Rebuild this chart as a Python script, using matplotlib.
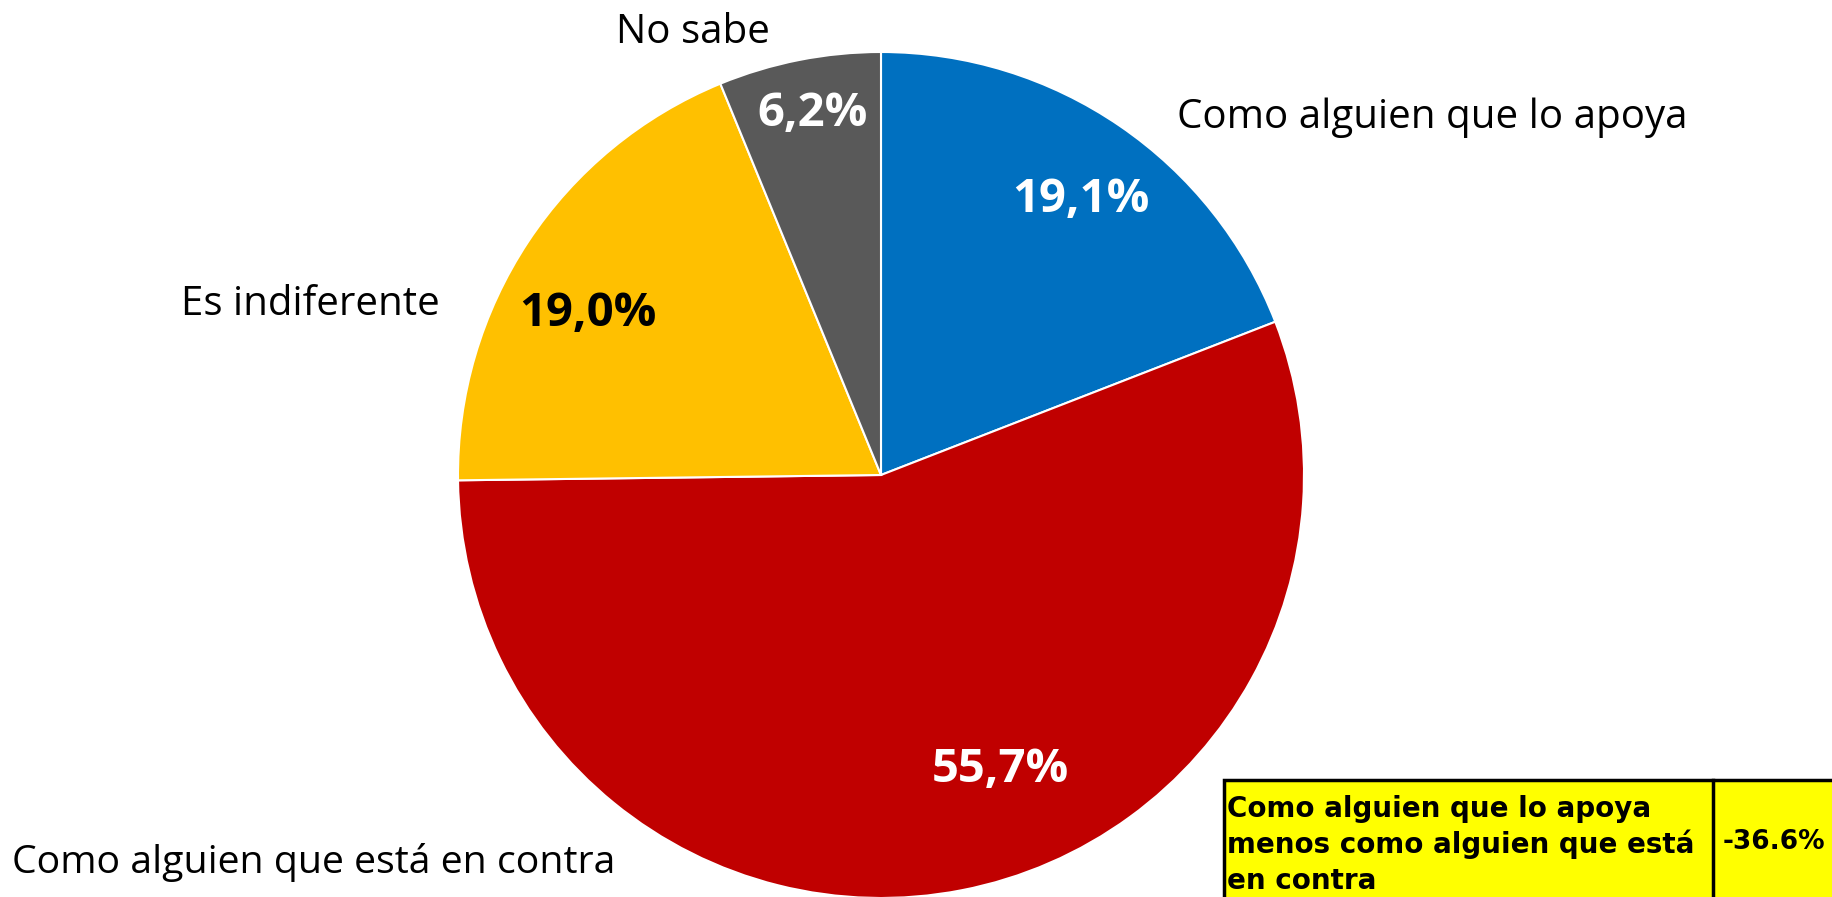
import matplotlib.pyplot as plt
from matplotlib.patches import Rectangle

categorias = ["Como alguien que lo apoya", "Como alguien que está en contra",
              "Es indiferente", "No sabe"]
porcentajes = [19.1, 55.7, 19.0, 6.2]
colores = ["#0070C0", "#C00000", "#FFC000", "#595959"]
color_pct = ["white", "white", "black", "white"]
diferencia = porcentajes[0] - porcentajes[1]
lineas_tabla = ["Como alguien que lo apoya", "menos como alguien que está", "en contra"]

W, H = 1833, 897
fig = plt.figure(figsize=(W / 100, H / 100), dpi=100)
ax = fig.add_axes([0, 0, 1, 1])

cx, cy, r = 881, H - 475, 423
ax.pie(porcentajes, colors=colores, startangle=90, counterclock=False,
       center=(cx, cy), radius=r,
       wedgeprops=dict(edgecolor="white", linewidth=1.5))
ax.set_xlim(0, W)
ax.set_ylim(0, H)
ax.set_aspect("equal")
ax.axis("off")

fuente = "Open Sans"

# nombres de cada categoría
pos_nombres = [(1432, 118), (314, 863), (310, 305), (693, 33)]
tam_nombres = [29, 28.3, 29, 29]
for nombre, (x, y), t in zip(categorias, pos_nombres, tam_nombres):
    ax.text(x, H - y, nombre, ha="center", va="center", fontsize=t,
            family=fuente, color="black")

# porcentajes dentro de cada sector
pos_pct = [(1081, 199), (1000, 769), (588, 313), (813, 113)]
for v, c, (x, y) in zip(porcentajes, color_pct, pos_pct):
    ax.text(x, H - y, f"{v:.1f}%".replace(".", ","), ha="center", va="center",
            fontsize=34, fontweight="bold", family=fuente, color=c)

# recuadro con la diferencia
x0, y0, x1 = 1224, 780, 1713
ax.add_patch(Rectangle((x0, -5), W + 10 - x0, H - y0 + 5,
                       facecolor="#FFFF00", edgecolor="black", linewidth=2.5,
                       clip_on=False))
ax.plot([x1, x1], [-5, H - y0], color="black", linewidth=2.5)
for i, linea in enumerate(lineas_tabla):
    ax.text(x0 + 3, H - (817 + 36 * i), linea, ha="left", va="baseline",
            fontsize=20, fontweight="bold", family="DejaVu Sans")
ax.text(x1 + 10, H - 842, f"{diferencia:.1f}%", ha="left", va="center",
        fontsize=19, fontweight="bold", family="DejaVu Sans")

fig.savefig("out.png", dpi=100)
